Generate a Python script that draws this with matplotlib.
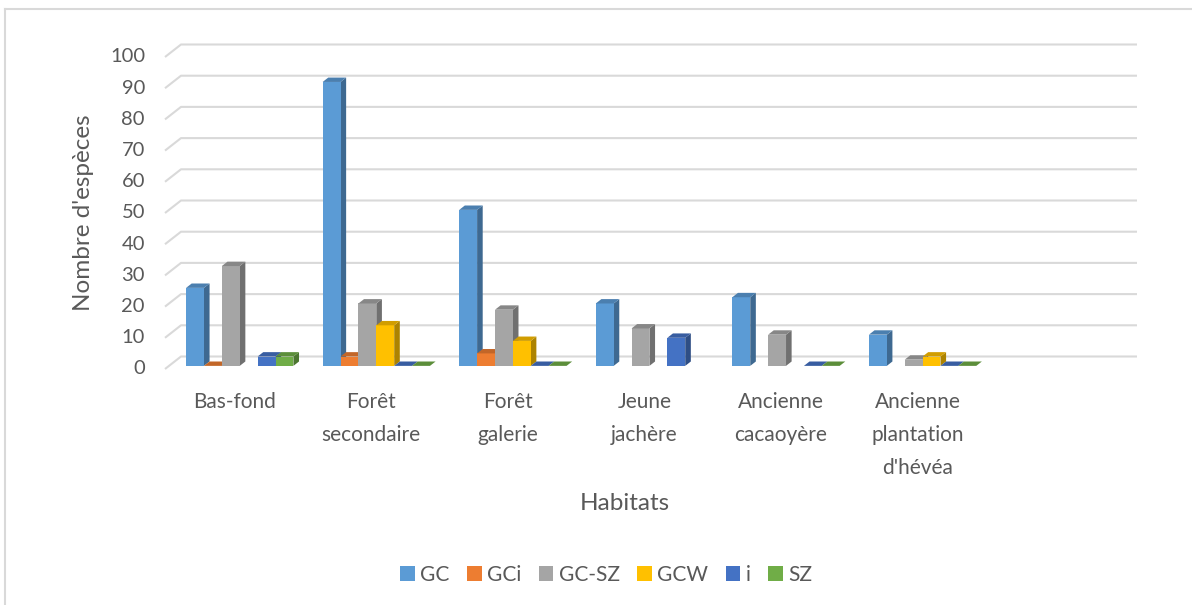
import numpy as np
import matplotlib
matplotlib.use('Agg')
import matplotlib.pyplot as plt
from matplotlib.patches import Polygon, Patch
from matplotlib.colors import to_rgb

plt.rcParams['font.family'] = ['Lato', 'DejaVu Sans']

# effectifs d'espèces par habitat et par type chorologique (nan = case vide)
habitats = ['Bas-fond', 'Forêt\nsecondaire', 'Forêt\ngalerie', 'Jeune\njachère',
            'Ancienne\ncacaoyère', 'Ancienne\nplantation\nd\'hévéa']
series = ['GC', 'GCi', 'GC-SZ', 'GCW', 'i', 'SZ']
gc = [25, 91, 50, 20, 22, 10]
gci = [0, 3, 4, np.nan, np.nan, np.nan]
gc_sz = [32, 20, 18, 12, 10, 2]
gcw = [np.nan, 13, 8, np.nan, np.nan, 3]
i_ = [3, 0, 0, 9, 0, 0]
sz = [3, 0, 0, np.nan, 0, 0]
values = [gc, gci, gc_sz, gcw, i_, sz]
colors = ['#5B9BD5', '#ED7D31', '#A5A5A5', '#FFC000', '#4472C4', '#70AD47']
yticks = list(range(0, 101, 10))
n_slots = 7  # l'axe garde une catégorie vide à droite

W, H = 1192, 605
fig = plt.figure(figsize=(W / 100, H / 100), dpi=100)
ax = fig.add_axes([0, 0, 1, 1])
ax.axis('off')

# repère : x en catégories, y en valeurs, plan avant
x0px, catpx = 165, 136.57
y0px, unitpx = 369, 3.12
ax.set_xlim(-x0px / catpx, (W - x0px) / catpx)
ax.set_ylim((y0px - H) / unitpx, y0px / unitpx)

dx, dy = 16 / catpx, 12.5 / unitpx  # profondeur du plancher
grid_c = '#D9D9D9'
text_c = '#595959'

for v in yticks:
    ax.plot([0, dx, n_slots + dx], [v, v + dy, v + dy], color=grid_c, lw=1.5,
            solid_capstyle='butt', zorder=1)
    ax.text(-20 / catpx, v, str(v), ha='right', va='center', fontsize=14.5, color=text_c)


def shade(c, k):
    r, g, b = to_rgb(c)
    return (r * k, g * k, b * k)


# barres pseudo-3D
f0, f1 = 0.25, 0.6
bw = 0.131
left = 0.125
for c in range(len(habitats)):
    for k, (vals, col) in enumerate(zip(values, colors)):
        v = vals[c]
        if np.isnan(v):
            continue
        xa = c + left + k * bw + f0 * dx
        xb = xa + bw
        yb = f0 * dy
        yt = v + f0 * dy
        ddx, ddy = (f1 - f0) * dx, (f1 - f0) * dy
        front = [(xa, yb), (xb, yb), (xb, yt), (xa, yt)]
        side = [(xb, yb), (xb + ddx, yb + ddy), (xb + ddx, yt + ddy), (xb, yt)]
        top = [(xa, yt), (xb, yt), (xb + ddx, yt + ddy), (xa + ddx, yt + ddy)]
        ax.add_patch(Polygon(side, closed=True, fc=shade(col, 0.68), ec='none', zorder=3))
        ax.add_patch(Polygon(front, closed=True, fc=col, ec='none', zorder=3))
        ax.add_patch(Polygon(top, closed=True, fc=shade(col, 0.82), ec='none', zorder=3))

# libellés des habitats
for c, lab in enumerate(habitats):
    ax.text(c + 0.51, (y0px - 392) / unitpx, lab, ha='center', va='top',
            fontsize=15, color=text_c, linespacing=1.82)

fig.text(83 / W, 1 - 213 / H, "Nombre d'espèces", rotation=90, ha='center', va='center',
         fontsize=17.5, color=text_c)
fig.text(625 / W, 1 - 503 / H, 'Habitats', ha='center', va='center',
         fontsize=17.5, color=text_c)

handles = [Patch(fc=col, ec='none') for col in colors]
fig.legend(handles, series, loc='center', bbox_to_anchor=(606 / W, 1 - 575 / H), ncol=6,
           frameon=False, fontsize=15, labelcolor=text_c, handlelength=0.7,
           handleheight=0.7, handletextpad=0.25, columnspacing=0.85)

# cadre du graphique
ax.plot([5.5 / catpx - x0px / catpx] * 2, [(y0px - H) / unitpx, (y0px - 8.5) / unitpx],
        color=grid_c, lw=1.5)
ax.plot([5.5 / catpx - x0px / catpx, (W - x0px) / catpx], [(y0px - 8.5) / unitpx] * 2,
        color=grid_c, lw=1.5)

fig.savefig('out.png', dpi=100, facecolor='white')
